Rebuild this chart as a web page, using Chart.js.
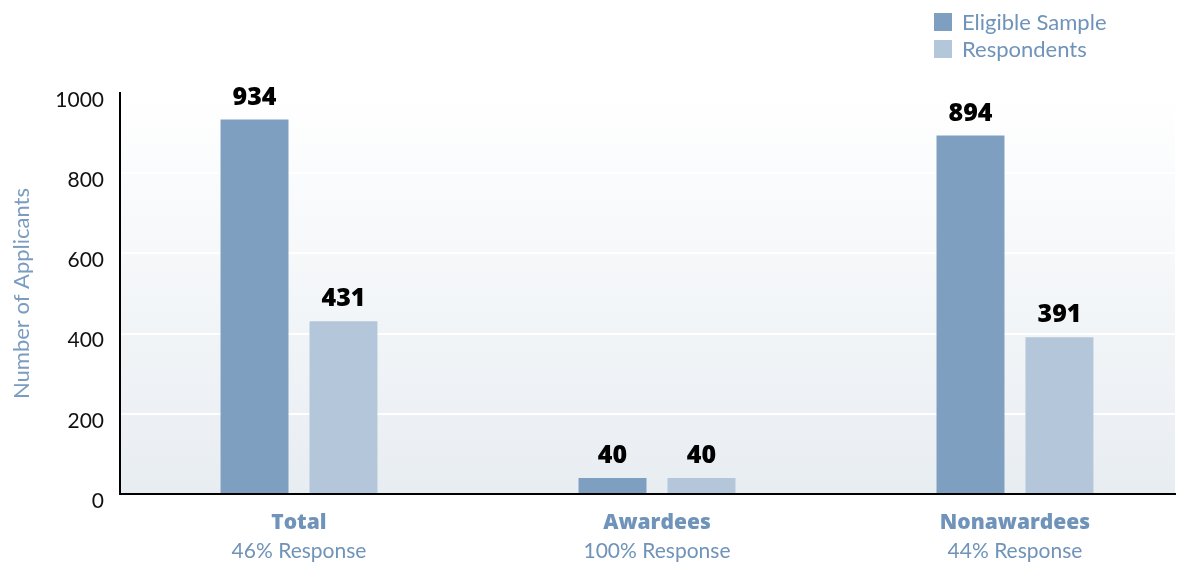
<!DOCTYPE html>
<html>
<head>
<meta charset="utf-8">
<script src="https://cdn.jsdelivr.net/npm/chart.js@4"></script>
<style>
  html, body { margin: 0; padding: 0; background: #fff; }
  #wrap { width: 1188px; height: 565px; }
</style>
</head>
<body>
<div id="wrap"><canvas id="chart"></canvas></div>
<script>
const categories = ['Total', 'Awardees', 'Nonawardees'];
const responseRates = ['46% Response', '100% Response', '44% Response'];
const eligibleSample = [934, 40, 894];
const respondents = [431, 40, 391];

const darkBlue = '#7f9fc1';
const lightBlue = '#b3c6da';
const labelBlue = '#6f93b9';
const fontName = 'Lato, "Noto Sans", sans-serif';
const heavyFont = '"Open Sans", Lato, sans-serif';

// bars sit on a linear x scale so the groups line up with the picture
const toPoints = arr => arr.map((v, i) => ({ x: i, y: v }));

const extras = {
    id: 'extras',
    beforeDraw(chart) {
        const { ctx, chartArea: a } = chart;
        const g = ctx.createLinearGradient(0, a.top, 0, a.bottom);
        g.addColorStop(0, '#ffffff');
        g.addColorStop(1, '#e8edf2');
        ctx.save();
        ctx.fillStyle = g;
        ctx.fillRect(a.left, a.top, a.right - a.left, a.bottom - a.top);
        ctx.restore();
    },
    afterDraw(chart) {
        const { ctx } = chart;
        const xs = chart.scales.x;
        ctx.save();

        // value labels
        ctx.fillStyle = '#000';
        ctx.font = '800 25px ' + heavyFont;
        ctx.textAlign = 'center';
        ctx.textBaseline = 'middle';
        chart.data.datasets.forEach((ds, di) => {
            chart.getDatasetMeta(di).data.forEach((bar, i) => {
                ctx.fillText(ds.data[i].y, bar.x, bar.y - 22);
            });
        });

        // category labels
        categories.forEach((c, i) => {
            const x = xs.getPixelForValue(i);
            ctx.fillStyle = labelBlue;
            ctx.font = '800 21px ' + heavyFont;
            ctx.fillText(c, x, 523);
            ctx.font = '21px ' + fontName;
            ctx.fillText(responseRates[i], x, 551);
        });

        // legend
        ctx.textAlign = 'left';
        ctx.font = '22px ' + fontName;
        chart.data.datasets.forEach((ds, di) => {
            const y = 22 + di * 27;
            ctx.fillStyle = ds.backgroundColor;
            ctx.fillRect(934, y - 9, 18, 18);
            ctx.fillStyle = labelBlue;
            ctx.fillText(ds.label, 962, y + 1);
        });
        ctx.restore();
    }
};

new Chart(document.getElementById('chart'), {
    type: 'bar',
    data: {
        datasets: [{
            label: 'Eligible Sample',
            data: toPoints(eligibleSample),
            backgroundColor: darkBlue
        }, {
            label: 'Respondents',
            data: toPoints(respondents),
            backgroundColor: lightBlue
        }]
    },
    options: {
        responsive: true,
        maintainAspectRatio: false,
        animation: false,
        categoryPercentage: 0.497,
        barPercentage: 0.764,
        layout: { padding: { top: 93, right: 13, left: 0, bottom: 0 } },
        plugins: {
            legend: { display: false },
            tooltip: { enabled: false }
        },
        scales: {
            x: {
                type: 'linear',
                offset: false,
                min: -0.5,
                max: 2.447,
                ticks: { display: false, stepSize: 1, includeBounds: false },
                grid: { display: false, offset: false },
                border: { display: true, color: '#000', width: 2 },
                afterFit: s => { s.height = 71; }
            },
            y: {
                min: 0,
                max: 1000,
                ticks: {
                    stepSize: 200,
                    color: '#111',
                    padding: 16,
                    labelOffset: 7,
                    font: { family: fontName, size: 21 },
                    callback: v => String(v)
                },
                grid: { color: '#ffffff', lineWidth: 2, drawTicks: false },
                border: { display: true, color: '#000', width: 2 },
                title: {
                    display: true,
                    text: 'Number of Applicants',
                    color: '#7b9cc0',
                    font: { family: fontName, size: 22 },
                    padding: { top: 9, bottom: 0 }
                },
                afterFit: s => { s.width = 120; }
            }
        }
    },
    plugins: [extras]
});
</script>
</body>
</html>
